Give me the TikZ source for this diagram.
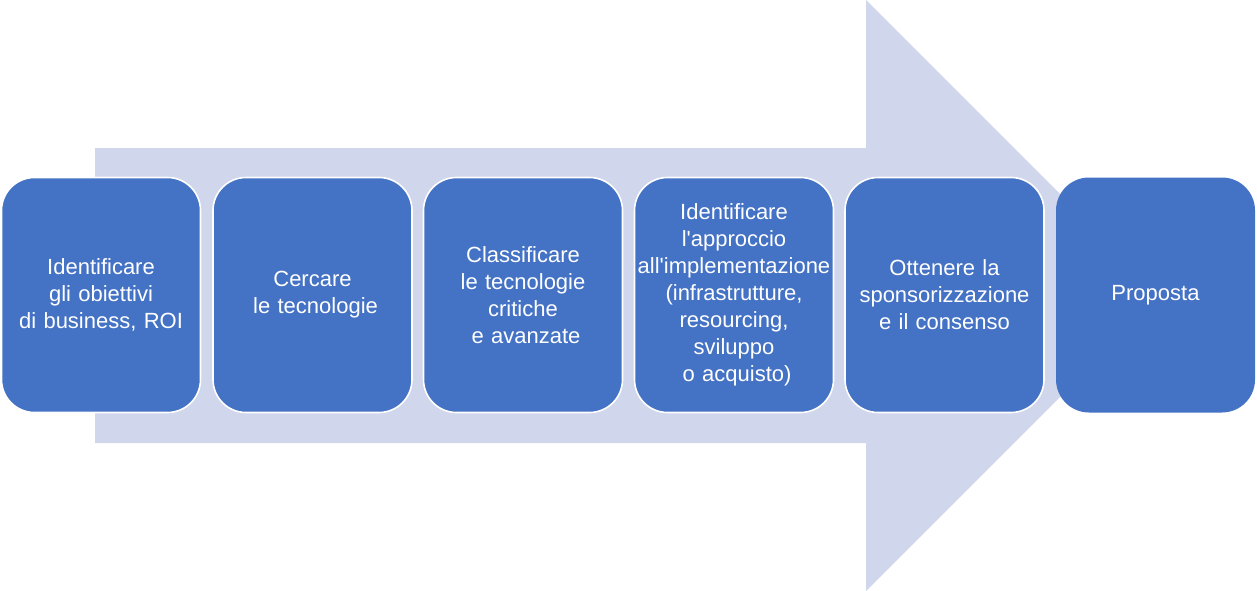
\documentclass[tikz,border=0pt]{standalone}
\usepackage{fontspec}
\setmainfont{Liberation Sans}
\definecolor{boxblue}{RGB}{68,114,196}
\definecolor{arrowfill}{RGB}{208,214,235}
\begin{document}
\begin{tikzpicture}[x=1pt,y=-1pt,
  stepbox/.style={rectangle, rounded corners=33pt, fill=boxblue, draw=white, line width=1.6pt,
    minimum width=199pt, minimum height=235pt, text width=198pt, inner sep=0pt,
    align=center, text=white, font=\fontsize{22}{27}\selectfont},
  lastbox/.style={stepbox, draw=none}]
\useasboundingbox (0,0) rectangle (1257,591);
\fill[arrowfill] (95,148) -- (866,148) -- (866,0) -- (1161.5,295.5) -- (866,591) -- (866,443) -- (95,443) -- cycle;
\node[stepbox] (s1) at (101,295) {Identificare\\gli obiettivi\hspace*{.278em}\\di business, ROI};
\node[stepbox] (s2) at (312.5,295) {Cercare\\\hspace*{.278em}le tecnologie};
\node[stepbox] (s3) at (523,295) {Classificare\\le tecnologie\\critiche\\\hspace*{.278em}e avanzate};
\node[stepbox] (s4) at (734,295) {Identificare\\l\textquotesingle approccio\\all\textquotesingle implementazione\\(infrastrutture,\\resourcing,\\sviluppo\\\hspace*{.278em}o acquisto)};
\node[stepbox] (s5) at (944.5,295) {Ottenere la\\sponsorizzazione\\e il consenso};
\node[lastbox] (s6) at (1155.5,295) {Proposta};
\end{tikzpicture}
\end{document}
